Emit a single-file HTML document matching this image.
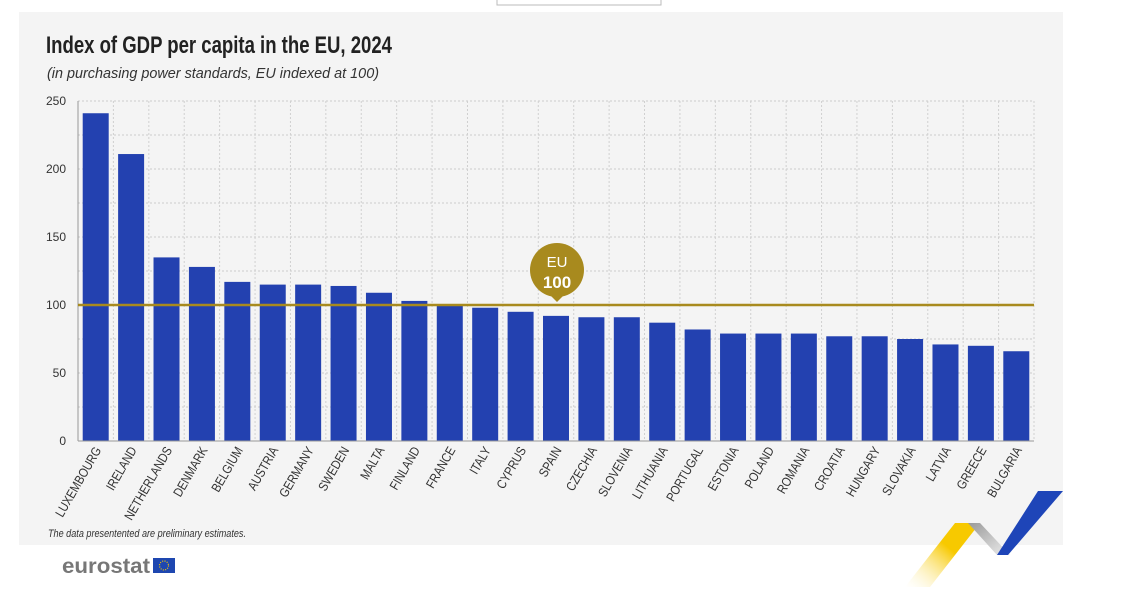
<!DOCTYPE html>
<html><head><meta charset="utf-8"><style>
body{margin:0;width:1128px;height:611px;background:#fff;overflow:hidden;font-family:"Liberation Sans",sans-serif}
</style></head><body>
<svg width="1128" height="611" xmlns="http://www.w3.org/2000/svg" style="position:absolute;left:0;top:0">
<defs>
<linearGradient id="gy" x1="1" y1="0" x2="0" y2="1"><stop offset="0.4" stop-color="#f7c900"/><stop offset="1" stop-color="#fff" stop-opacity="0.2"/></linearGradient>
<linearGradient id="gg" x1="0" y1="0" x2="1" y2="1"><stop offset="0" stop-color="#999"/><stop offset="1" stop-color="#eee"/></linearGradient>
</defs>
<rect x="497" y="-1" width="164" height="6" fill="#fff" stroke="#bbb"/>
<rect x="19" y="12" width="1044" height="533" fill="#f4f4f4"/>
<text x="46" y="53" font-size="24" font-weight="bold" fill="#222" textLength="346" lengthAdjust="spacingAndGlyphs">Index of GDP per capita in the EU, 2024</text>
<text x="47" y="78" font-size="15" font-style="italic" fill="#333" textLength="332" lengthAdjust="spacingAndGlyphs">(in purchasing power standards, EU indexed at 100)</text>
<g id="grid"></g>
<g id="bars"></g>
<text x="48" y="537" font-size="11" font-style="italic" fill="#333" textLength="198" lengthAdjust="spacingAndGlyphs">The data presentented are preliminary estimates.</text>
<text x="62" y="573" font-size="21" font-weight="bold" fill="#777" textLength="88" lengthAdjust="spacingAndGlyphs">eurostat</text>
<rect x="153" y="558" width="22" height="15" fill="#1e47b0"/>
<circle cx="164" cy="565.5" r="4.5" fill="none" stroke="#f7c900" stroke-width="1.2" stroke-dasharray="1 1.4"/>
<polygon points="905,587 955,523 980,523 930,587" fill="url(#gy)"/>
<polygon points="968,523 980,523 1010,555 997,555" fill="url(#gg)"/>
<polygon points="997,555 1038,491 1063,491 1008,555" fill="#1e45b8"/>
</svg>
<script>
const vals=[["LUXEMBOURG",241],["IRELAND",211],["NETHERLANDS",135],["DENMARK",128],["BELGIUM",117],["AUSTRIA",115],["GERMANY",115],["SWEDEN",114],["MALTA",109],["FINLAND",103],["FRANCE",100],["ITALY",98],["CYPRUS",95],["SPAIN",92],["CZECHIA",91],["SLOVENIA",91],["LITHUANIA",87],["PORTUGAL",82],["ESTONIA",79],["POLAND",79],["ROMANIA",79],["CROATIA",77],["HUNGARY",77],["SLOVAKIA",75],["LATVIA",71],["GREECE",70],["BULGARIA",66]];
const x0=78,x1=1034,y0=441,k=340/250,w=(x1-x0)/27;
let g='';
for(let v=25;v<=250;v+=25){const y=y0-v*k;g+=`<line x1="${x0}" x2="${x1}" y1="${y}" y2="${y}" stroke="#ccc" stroke-dasharray="2 2"/>`;}
for(let i=1;i<=27;i++){const x=x0+i*w;g+=`<line x1="${x}" x2="${x}" y1="${y0-250*k}" y2="${y0}" stroke="#d0d0d0" stroke-dasharray="2 2"/>`;}
for(let v=0;v<=250;v+=50){g+=`<text x="66" y="${y0-v*k+4}" font-size="12" fill="#333" text-anchor="end">${v}</text>`;}
document.getElementById('grid').innerHTML=g;
let b='';
vals.forEach(([n,v],i)=>{const c=x0+(i+0.5)*w;b+=`<rect x="${c-13}" y="${y0-v*k}" width="26" height="${v*k}" fill="#2341b0"/>`;
b+=`<text transform="translate(${c+6},${y0+9}) rotate(-60) scale(0.85,1)" font-size="13" fill="#333" text-anchor="end">${n}</text>`;});
b+=`<line x1="${x0}" x2="${x1}" y1="${y0}" y2="${y0}" stroke="#999"/><line x1="${x0}" x2="${x0}" y1="${y0-250*k}" y2="${y0}" stroke="#999"/>`;
b+=`<line x1="${x0}" x2="${x1}" y1="305" y2="305" stroke="#a88a1e" stroke-width="2.5"/>`;
b+=`<circle cx="557" cy="270" r="27" fill="#a88a1e"/><polygon points="549,294 565,294 557,302" fill="#a88a1e"/>`;
b+=`<text x="557" y="267" font-size="15" fill="#fff" text-anchor="middle">EU</text><text x="557" y="288" font-size="17" font-weight="bold" fill="#fff" text-anchor="middle">100</text>`;
document.getElementById('bars').innerHTML=b;
</script>
</body></html>
